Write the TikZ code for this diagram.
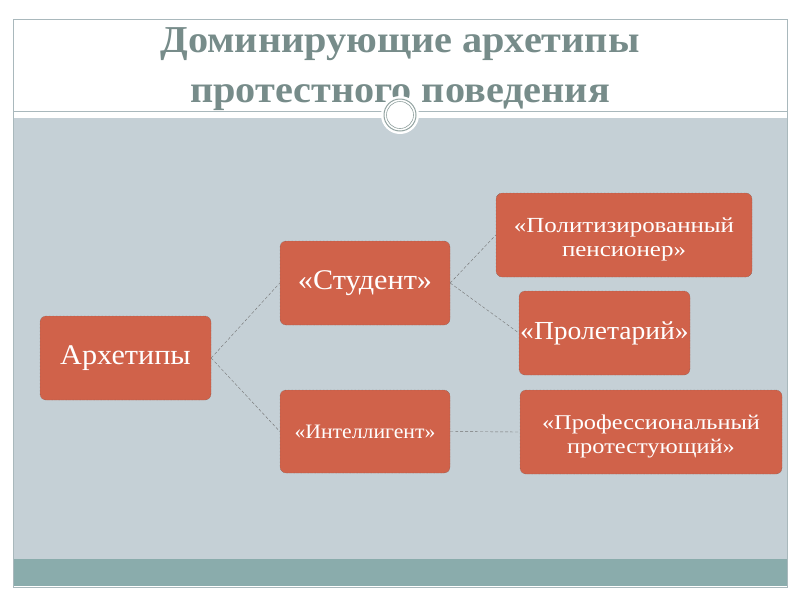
\documentclass[tikz,border=0pt]{standalone}
\usepackage{fontspec}
\setmainfont[FakeStretch=1.06]{Liberation Serif}
\newfontfamily\widefont[FakeStretch=1.16]{Liberation Serif}
\definecolor{boxfill}{HTML}{D0624A}
\definecolor{panel}{HTML}{C5D0D6}
\definecolor{band}{HTML}{8AACAC}
\definecolor{titlecol}{HTML}{778C8A}
\definecolor{rim}{HTML}{A9B8BC}
\tikzset{
  archbox/.style={draw=black!65, densely dotted, fill=boxfill, rounded corners=6pt,
    text=white, align=center, inner sep=0pt},
  titleline/.style={text=titlecol, font=\bfseries\fs{38}, anchor=base, inner sep=0pt},
  link/.style={draw=black!55, densely dashed, thin}
}
\newcommand{\fs}[1]{\fontsize{#1}{1.1\dimexpr#1pt\relax}\selectfont}
\newcommand{\lowstrut}{\rule{0pt}{24pt}}
\begin{document}
\begin{tikzpicture}[x=1pt,y=-1pt]
  \useasboundingbox (0,0) rectangle (800,600);
  \fill[white] (0,0) rectangle (800,600);
  % Slide frame, panel and bottom band
  \fill[panel] (13,118) rectangle (787,559);
  \fill[band] (13,559) rectangle (787,586);
  \draw[rim, thin] (13,19) rectangle (787,587);
  \draw[rim, thin] (13,111) -- (787,111);
  % Title
  \node[titleline] (title1) at (400,52) {Доминирующие архетипы};
  \node[titleline] (title2) at (400,102) {протестного поведения};
  % Ring on the title rule
  \fill[white] (400,115) circle (19);
  \draw[titlecol!80, line width=1pt] (400,115) circle (16);
  \draw[titlecol!80, line width=0.6pt] (400,115) circle (13.5);
  % Boxes
  \node[archbox, minimum width=171, minimum height=84, font=\fs{28.5}] (arch) at (125.5,358) {Архетипы};
  \node[archbox, minimum width=170, minimum height=84, font=\fs{28.5}] (stud) at (365,283) {«Студент»};
  \node[archbox, minimum width=170, minimum height=83, font=\fs{20.5}] (intel) at (365,431.5) {«Интеллигент»};
  \node[archbox, minimum width=256, minimum height=84, font=\widefont\fontsize{21.5}{24}\selectfont] (pens) at (624,235) {\lowstrut«Политизированный\\пенсионер»};
  \node[archbox, minimum width=171, minimum height=84, font=\fs{26}] (prol) at (604.5,333) {«Пролетарий»};
  \node[archbox, minimum width=262, minimum height=84, font=\widefont\fontsize{21}{24}\selectfont] (prof) at (651,432) {\lowstrut«Профессиональный\\протестующий»};
  % Connectors
  \draw[link] (arch.east) -- (stud.west);
  \draw[link] (arch.east) -- (intel.west);
  \draw[link] (stud.east) -- (pens.west);
  \draw[link] (stud.east) -- (prol.west);
  \draw[link] (intel.east) -- (prof.west);
\end{tikzpicture}
\end{document}
